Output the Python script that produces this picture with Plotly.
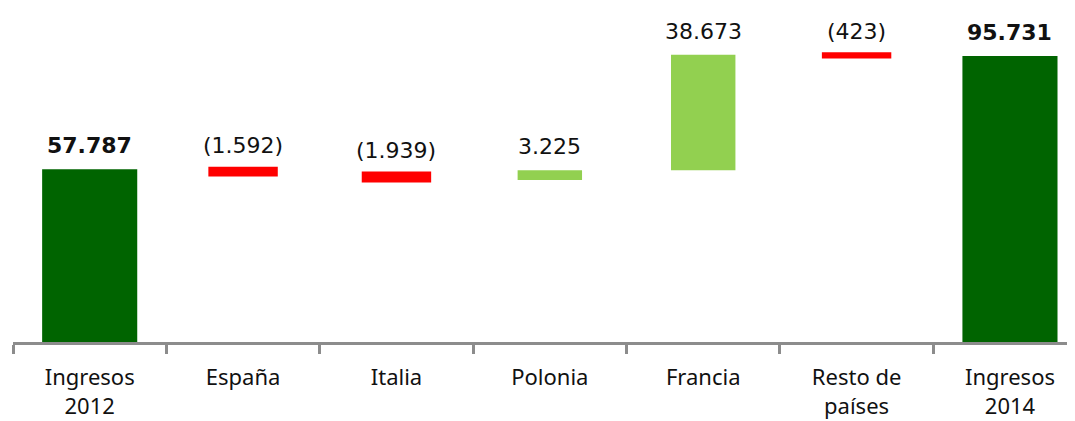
import plotly.graph_objects as go

categories = ["Ingresos 2012", "España", "Italia", "Polonia", "Francia", "Resto de países", "Ingresos 2014"]
tick_labels = ["Ingresos<br>2012", "España", "Italia", "Polonia", "Francia", "Resto de<br>países", "Ingresos<br>2014"]
values = [57787, -1592, -1939, 3225, 38673, -423, 95731]
measures = ["absolute", "relative", "relative", "relative", "relative", "relative", "total"]

DARK = "#006400"
LIGHT = "#92D050"
RED = "#FF0000"

def fmt(v):
    s = f"{abs(v):,}".replace(",", ".")
    return f"({s})" if v < 0 else s

# compute bar tops for label placement
tops = []
running = 0
for v, m in zip(values, measures):
    if m == "absolute":
        running = v
        tops.append(v)
    elif m == "total":
        tops.append(running)
    else:
        start = running
        running += v
        tops.append(max(start, running))

widths = [0.62 if m != "relative" else 0.42 for m in measures]

fig = go.Figure(go.Waterfall(
    x=categories,
    y=values,
    measure=measures,
    width=widths,
    totals=dict(marker=dict(color=DARK, line=dict(width=0))),
    increasing=dict(marker=dict(color=LIGHT, line=dict(width=0))),
    decreasing=dict(marker=dict(color=RED, line=dict(color=RED, width=5))),
    connector=dict(visible=False),
    hoverinfo="skip",
))

for c, v, t, m in zip(categories, values, tops, measures):
    bold = m != "relative"
    fig.add_annotation(
        x=c, y=t, text=f"<b>{fmt(v)}</b>" if bold else fmt(v),
        showarrow=False, yanchor="bottom", yshift=9,
        font=dict(family="DejaVu Sans", size=22, color="#111111"),
    )

fig.update_layout(
    width=1075, height=421,
    margin=dict(l=5, r=8, t=2, b=87),
    plot_bgcolor="white", paper_bgcolor="white",
    showlegend=False,
    xaxis=dict(
        type="category",
        tickmode="array", tickvals=categories, ticktext=tick_labels,
        tickson="boundaries",
        ticks="outside", ticklen=9, tickwidth=3, tickcolor="#8c8c8c",
        ticklabelstandoff=14,
        showline=True, linecolor="#8c8c8c", linewidth=3,
        range=[-0.5, 6.424],
        tickfont=dict(family="Noto Sans", size=22, color="#111111"),
        showgrid=False, zeroline=False,
    ),
    yaxis=dict(
        range=[0, 111127], visible=False, showgrid=False, zeroline=False,
    ),
)

fig.write_html("out.html")
